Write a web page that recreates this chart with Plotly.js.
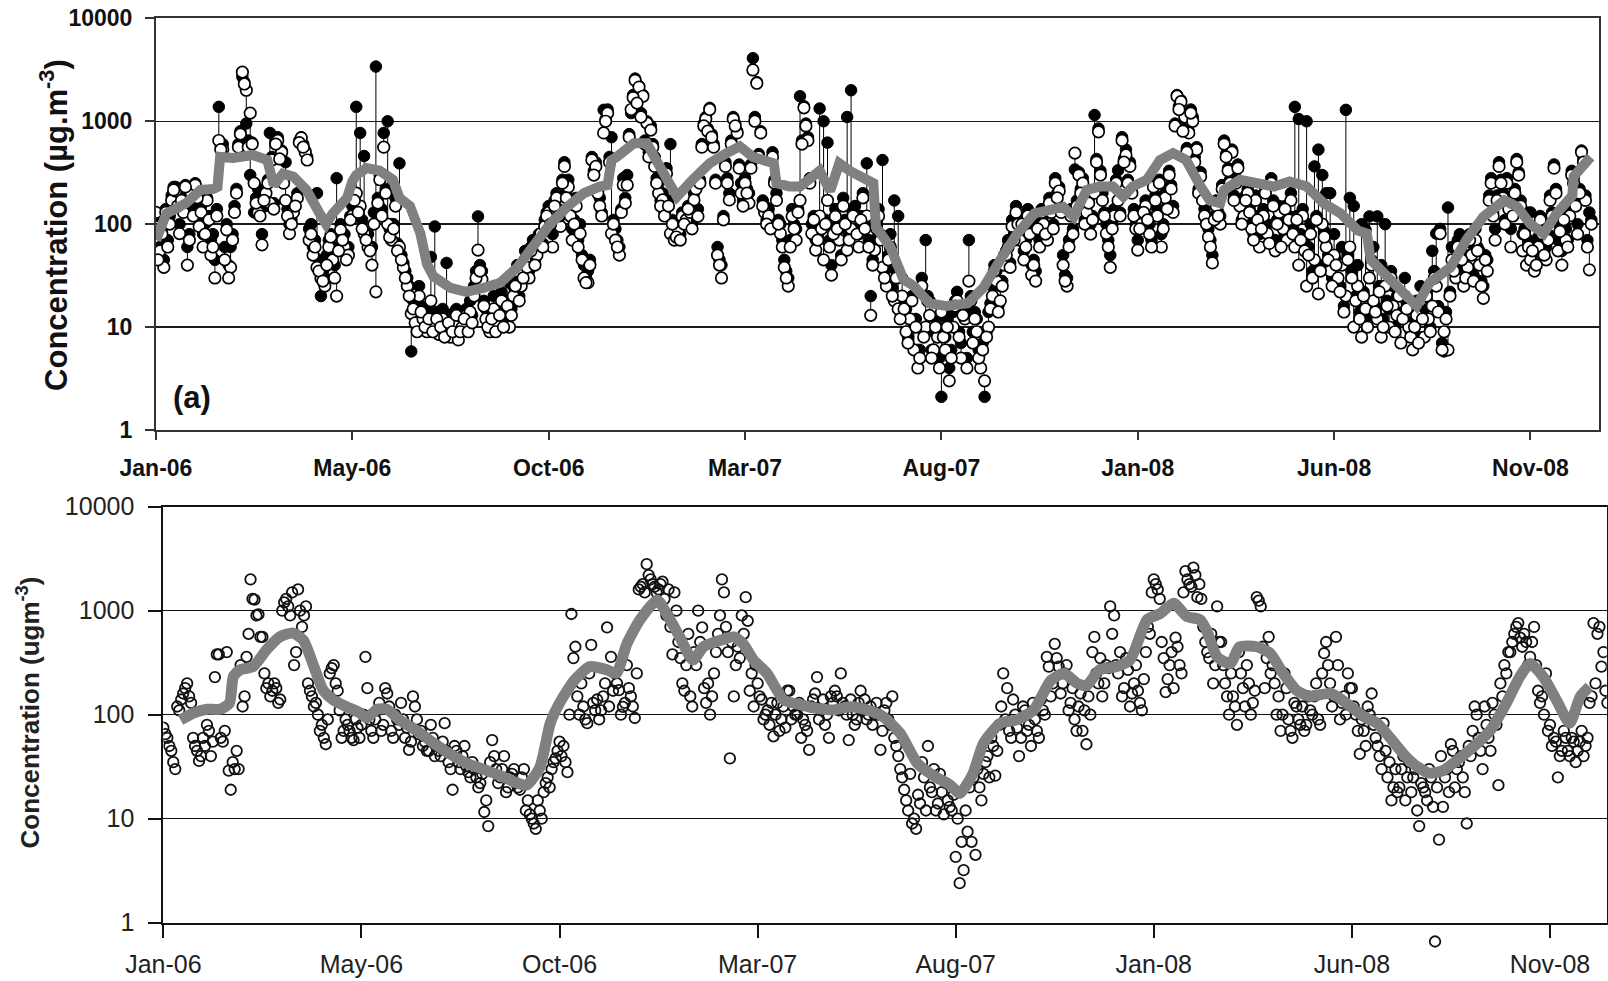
<!DOCTYPE html>
<html>
<head>
<meta charset="utf-8">
<script src="https://cdn.plot.ly/plotly-3.0.1.min.js"></script>
<style>
  html, body { margin: 0; padding: 0; background: #ffffff; }
  #chart { width: 1608px; height: 981px; }
</style>
</head>
<body>
<div id="chart"></div>
<script>
// Concentration record, Jan 2006 - Dec 2008. Readings are stored in two
// interleaved sets: one every 3 days from day 0, one every 3 days from day 1.5.
const seriesStartUTC = Date.UTC(2006, 0, 1);
const sampleStepDays = 3;
const midOffsetDays = 1.5;

// Date axis: ticks every 150 days from the first day of record
const xTickDays = [0, 150, 300, 450, 600, 750, 900, 1050];
const xTickLabels = ['Jan-06', 'May-06', 'Oct-06', 'Mar-07', 'Aug-07', 'Jan-08', 'Jun-08', 'Nov-08'];
const yTickValues = [1, 10, 100, 1000, 10000];
const yTickLabels = ['1', '10', '100', '1000', '10000'];

// Panel (a): filled-circle series (µg.m-3), days 0, 3, 6, ...
const topFilled = [
  120, 60, 45, 70, 190, 230, 100, 150, 60, 220,
  250, 110, 80, 180, 70, 45, 1380, 600, 100, 60,
  150, 600, 2700, 950, 300, 130, 220, 80, 150, 770,
  160, 700, 520, 400, 100, 150, 200, 700, 520, 90,
  60, 200, 20, 30, 70, 60, 280, 100, 80, 60,
  150, 1380, 770, 460, 80, 60, 3400, 300, 770, 1000,
  100, 180, 390, 42, 30, 5.8, 15, 25, 15, 12,
  48, 95, 12, 15, 42, 10, 14, 9, 12, 15,
  18, 25, 119, 35, 15, 11, 20, 14, 22, 18,
  27, 25, 40, 30, 55, 35, 70, 60, 60, 110,
  150, 80, 200, 120, 400, 270, 90, 180, 100, 40,
  35, 450, 400, 180, 1290, 1300, 700, 90, 60, 280,
  300, 1200, 2600, 2200, 1800, 1000, 900, 450, 250, 200,
  350, 600, 90, 100, 130, 130, 150, 200, 140, 600,
  1100, 1350, 600, 60, 40, 400, 200, 1100, 800, 250,
  280, 200, 4100, 2400, 800, 150, 140, 500, 200, 100,
  45, 30, 140, 90, 1750, 1400, 700, 100, 70, 1330,
  1000, 620, 40, 140, 90, 180, 1100, 2000, 150, 80,
  200, 390, 20, 70, 140, 420, 40, 80, 170, 120,
  30, 15, 18, 10, 6, 30, 70, 18, 9, 10,
  2.1, 8, 4, 14, 22, 7, 15, 70, 9, 12,
  6, 2.1, 14, 25, 35, 25, 50, 70, 110, 150,
  80, 55, 140, 40, 35, 70, 120, 85, 150, 280,
  230, 50, 30, 140, 340, 320, 280, 150, 100, 1150,
  850, 200, 100, 50, 140, 334, 700, 530, 400, 140,
  70, 120, 170, 100, 250, 140, 80, 200, 330, 150,
  1800, 1600, 1100, 800, 1100, 560, 320, 140, 90, 50,
  170, 120, 650, 350, 530, 280, 170, 140, 220, 110,
  190, 80, 140, 100, 280, 70, 150, 110, 90, 200,
  1380, 1050, 140, 1000, 100, 364, 530, 300, 200, 200,
  80, 40, 60, 1290, 180, 150, 40, 100, 88, 119,
  60, 119, 40, 100, 15, 25, 20, 12, 30, 15,
  9, 18, 25, 12, 16, 55, 81, 90, 5.8, 145,
  60, 40, 80, 35, 50, 65, 90, 55, 25, 45,
  280, 90, 400, 200, 280, 90, 220, 320, 80, 130,
  130, 50, 75, 100, 60, 190, 380, 70, 55, 90,
  140, 280, 100, 520, 190, 130
];
// Panel (a): filled-circle series, days 1.5, 4.5, 7.5, ...
const topFilledMid = [
  55, 90, 140, 120, 230, 170, 180, 240, 80, 140,
  200, 150, 100, 120, 80, 140, 560, 60, 40, 80,
  220, 800, 2400, 650, 620, 180, 140, 190, 270, 450,
  650, 450, 270, 140, 110, 170, 650, 600, 450, 100,
  70, 45, 35, 50, 80, 40, 60, 75, 60, 120,
  190, 150, 110, 80, 60, 130, 180, 140, 220, 90,
  100, 65, 50, 35, 25, 18, 12, 16, 12, 14,
  11, 14, 12, 10, 13, 11, 15, 11, 14, 11,
  13, 35, 40, 18, 12, 14, 11, 15, 12, 18,
  15, 28, 20, 35, 42, 60, 45, 80, 65, 130,
  110, 170, 140, 270, 200, 130, 110, 70, 50, 30,
  45, 330, 220, 130, 1050, 450, 110, 70, 140, 180,
  750, 1800, 1600, 1200, 650, 500, 600, 280, 170, 130,
  170, 110, 85, 80, 110, 150, 100, 240, 270, 950,
  850, 750, 270, 45, 120, 280, 650, 950, 380, 170,
  220, 380, 1100, 480, 170, 110, 100, 270, 110, 70,
  35, 70, 100, 140, 650, 950, 280, 120, 80, 100,
  110, 70, 90, 100, 50, 110, 80, 130, 90, 120,
  100, 70, 45, 100, 80, 35, 50, 24, 35, 14,
  17, 8, 20, 12, 6, 9, 20, 6, 12, 5,
  9, 12, 6, 18, 9, 15, 5, 20, 14, 6,
  7, 9, 17, 40, 16, 28, 55, 42, 80, 110,
  110, 70, 90, 45, 100, 140, 90, 180, 100, 200,
  140, 32, 70, 90, 170, 220, 110, 180, 120, 430,
  330, 130, 70, 100, 270, 130, 430, 270, 220, 100,
  100, 140, 120, 70, 190, 270, 100, 150, 240, 950,
  1400, 850, 550, 1300, 450, 220, 190, 110, 70, 120,
  130, 240, 480, 270, 190, 380, 110, 190, 140, 80,
  120, 100, 220, 75, 170, 110, 70, 150, 120, 90,
  120, 80, 65, 60, 35, 120, 40, 85, 50, 30,
  45, 25, 16, 50, 35, 20, 14, 22, 12, 45,
  16, 25, 12, 18, 35, 10, 22, 14, 17, 9,
  12, 8, 14, 22, 10, 35, 16, 7, 14, 22,
  40, 70, 50, 35, 80, 32, 60, 28, 50, 190,
  130, 190, 270, 110, 150, 130, 430, 170, 90, 70,
  60, 45, 120, 55, 80, 130, 220, 95, 120, 70,
  330, 170, 220, 430, 70, 110
];

// Panel (a): open-circle series (µg.m-3), days 0, 3, 6, ...
const topOpen = [
  130, 55, 38, 60, 170, 210, 81, 130, 40, 200,
  240, 95, 60, 170, 50, 30, 650, 530, 88, 38,
  130, 560, 3000, 2000, 1200, 250, 130, 63, 200, 160,
  140, 650, 500, 170, 81, 130, 180, 690, 500, 70,
  50, 38, 30, 25, 60, 45, 20, 88, 60, 50,
  120, 200, 150, 81, 60, 40, 22, 270, 560, 100,
  70, 150, 60, 38, 25, 13.5, 11, 20, 12, 9,
  18, 10, 8.5, 12, 9, 8, 11, 7.5, 10, 13,
  14, 20, 56, 29, 12, 9, 15, 11, 18, 14,
  10, 20, 35, 25, 45, 30, 60, 50, 81, 95,
  130, 60, 180, 95, 364, 230, 70, 150, 81, 30,
  27, 420, 364, 150, 770, 1200, 81, 70, 50, 240,
  240, 1300, 2500, 2150, 1750, 960, 820, 364, 200, 172,
  310, 81, 70, 88, 119, 110, 130, 172, 119, 560,
  1050, 1300, 560, 50, 30, 364, 172, 1050, 770, 200,
  250, 160, 3150, 2340, 770, 130, 120, 450, 170, 81,
  38, 25, 119, 70, 170, 1350, 650, 81, 56, 120,
  45, 170, 32, 119, 70, 150, 56, 90, 120, 60,
  180, 120, 13, 56, 120, 38, 25, 60, 18, 15,
  20, 9, 12, 6, 4, 25, 10, 13, 6, 8,
  14, 6, 3, 10, 18, 5, 12, 28, 7, 9,
  4, 3, 10, 20, 28, 18, 40, 60, 95, 130,
  70, 45, 120, 32, 28, 60, 100, 70, 130, 250,
  210, 40, 25, 120, 490, 300, 250, 130, 80, 200,
  790, 170, 81, 38, 120, 170, 650, 470, 364, 120,
  56, 100, 150, 80, 230, 120, 60, 180, 300, 130,
  1750, 1550, 1100, 770, 1000, 530, 290, 120, 75, 42,
  150, 100, 600, 330, 500, 250, 150, 119, 200, 90,
  170, 60, 120, 81, 250, 55, 130, 90, 70, 170,
  60, 40, 120, 25, 80, 45, 21, 100, 60, 35,
  50, 30, 40, 20, 60, 10, 25, 8, 15, 30,
  18, 12, 8, 25, 10, 16, 13, 7, 20, 10,
  6, 13, 18, 8, 12, 16, 25, 81, 9, 6,
  45, 30, 60, 25, 38, 50, 70, 40, 19, 35,
  250, 70, 364, 180, 250, 60, 200, 300, 55, 40,
  45, 35, 60, 80, 45, 170, 350, 55, 40, 70,
  120, 250, 80, 500, 170, 36
];
// Panel (a): open-circle series, days 1.5, 4.5, 7.5, ...
const topOpenMid = [
  45, 80, 130, 100, 215, 150, 170, 230, 70, 120,
  180, 130, 80, 110, 60, 120, 530, 45, 30, 70,
  200, 750, 2300, 560, 600, 160, 120, 170, 250, 420,
  600, 430, 250, 120, 100, 150, 620, 560, 420, 80,
  60, 35, 28, 40, 75, 30, 55, 70, 45, 110,
  170, 130, 90, 70, 55, 100, 160, 120, 200, 75,
  90, 55, 45, 30, 20, 15, 9, 14, 10, 12,
  9, 12, 10, 8, 11, 9, 13, 9, 12, 9,
  11, 30, 35, 16, 10, 12, 9, 13, 10, 16,
  13, 25, 18, 30, 38, 55, 40, 70, 60, 120,
  100, 150, 120, 250, 180, 120, 100, 60, 45, 27,
  40, 300, 200, 120, 1000, 400, 100, 60, 130, 160,
  700, 1700, 1500, 1100, 600, 450, 560, 250, 150, 120,
  150, 100, 75, 70, 100, 140, 90, 220, 250, 900,
  800, 700, 250, 40, 110, 250, 600, 900, 350, 150,
  200, 350, 1000, 450, 150, 100, 90, 250, 100, 60,
  30, 60, 90, 130, 600, 900, 250, 110, 70, 90,
  100, 60, 80, 90, 45, 100, 70, 120, 80, 110,
  90, 60, 40, 90, 70, 30, 45, 20, 30, 12,
  15, 7, 18, 10, 5, 8, 18, 5, 10, 4,
  8, 10, 5, 16, 8, 13, 4, 18, 12, 5,
  6, 8, 15, 35, 14, 25, 50, 38, 70, 100,
  100, 60, 80, 40, 90, 130, 80, 160, 90, 180,
  130, 28, 60, 80, 150, 200, 100, 160, 110, 400,
  300, 120, 60, 90, 250, 120, 400, 250, 200, 90,
  90, 130, 110, 60, 170, 250, 90, 140, 220, 900,
  1300, 800, 500, 1200, 400, 200, 170, 100, 60, 110,
  120, 220, 450, 250, 170, 350, 100, 170, 130, 70,
  110, 90, 200, 65, 150, 100, 60, 140, 110, 80,
  110, 70, 55, 50, 30, 110, 35, 75, 45, 25,
  40, 22, 14, 45, 30, 18, 12, 20, 10, 40,
  14, 22, 10, 16, 30, 9, 20, 12, 15, 8,
  10, 7, 12, 20, 9, 30, 14, 6, 12, 20,
  35, 60, 45, 30, 70, 28, 55, 25, 45, 170,
  120, 170, 250, 100, 140, 120, 400, 150, 80, 60,
  55, 40, 110, 50, 70, 120, 200, 85, 110, 60,
  300, 150, 200, 400, 60, 100
];

// Panel (a): running mean (day of record, value)
const topMeanDays = [
  0, 8, 23, 34, 44, 47, 49, 59, 74, 85, 90, 97, 105, 115, 125, 130, 135, 146, 150, 153,
  161, 171, 181, 186, 194, 199, 202, 207, 212, 225, 237, 250, 263, 276, 288, 301, 314, 327, 339, 345,
  348, 352, 365, 375, 385, 398, 410, 423, 436, 446, 456, 469, 472, 474, 484, 492, 500, 507, 515, 522,
  530, 538, 548, 550, 561, 571, 579, 591, 604, 620, 632, 645, 658, 671, 683, 693, 701, 711, 721, 731,
  739, 746, 757, 767, 777, 787, 798, 805, 813, 816, 828, 841, 854, 866, 879, 892, 905, 918, 925, 928,
  943, 956, 963, 973, 989, 1001, 1014, 1030, 1040, 1050, 1060, 1070, 1080, 1082, 1083, 1096
];
const topMeanValues = [
  70, 127, 160, 215, 220, 230, 450, 440, 470, 420, 240, 310, 290, 215, 127, 100, 127, 180, 260, 300,
  350, 330, 270, 180, 150, 95, 81, 41, 31, 24, 22, 24, 27, 38, 60, 100, 147, 200, 232, 240,
  420, 450, 610, 610, 360, 185, 270, 390, 490, 570, 450, 390, 390, 250, 232, 232, 290, 330, 210, 390,
  330, 290, 250, 94, 60, 29, 25, 17, 16, 17, 24, 45, 81, 127, 137, 147, 118, 215, 232, 232,
  185, 232, 270, 420, 490, 420, 232, 170, 160, 215, 270, 250, 232, 260, 232, 160, 127, 87, 81, 45,
  29, 20, 16, 27, 38, 70, 118, 170, 147, 100, 81, 127, 185, 190, 290, 450
];

// Lower panel: observations (ugm-3), days 0, 3, 6, ...
const bottomObserved = [
  75, 60, 45, 30, 110, 160, 200, 130, 50, 36,
  60, 80, 40, 230, 380, 55, 400, 19, 30, 30,
  120, 360, 2000, 1280, 920, 560, 180, 150, 200, 130,
  1000, 1300, 900, 300, 1600, 700, 1100, 170, 120, 100,
  80, 52, 250, 300, 170, 60, 90, 70, 57, 75,
  80, 360, 90, 60, 110, 70, 180, 120, 60, 90,
  130, 60, 46, 150, 90, 70, 55, 45, 60, 50,
  40, 83, 35, 19, 45, 30, 50, 28, 35, 25,
  22, 11.6, 8.5, 57, 30, 25, 40, 20, 27, 22,
  19, 30, 15, 10, 8, 12, 18, 25, 30, 38,
  55, 50, 28, 930, 450, 100, 120, 83, 470, 110,
  90, 150, 690, 360, 250, 172, 119, 300, 150, 93,
  1600, 1800, 2800, 2000, 1700, 1600, 1900, 900, 700, 1500,
  500, 200, 300, 150, 400, 1000, 690, 130, 100, 250,
  600, 2000, 700, 38, 150, 450, 900, 1350, 170, 120,
  200, 140, 100, 80, 62, 130, 90, 75, 170, 120,
  100, 60, 80, 46, 140, 230, 110, 80, 60, 130,
  150, 250, 120, 57, 100, 90, 170, 140, 100, 80,
  130, 46, 110, 90, 150, 50, 30, 19, 12, 9,
  8, 14, 25, 50, 18, 12, 27, 11, 15, 12,
  4.3, 2.4, 3.2, 7.5, 6, 4.5, 20, 27, 40, 60,
  26, 80, 250, 180, 60, 100, 40, 120, 70, 50,
  90, 60, 110, 360, 150, 480, 290, 200, 300, 130,
  90, 120, 70, 52, 100, 560, 200, 150, 300, 1100,
  900, 250, 150, 350, 120, 200, 170, 110, 400, 600,
  2000, 1600, 500, 165, 300, 180, 450, 250, 2400, 1800,
  2600, 1350, 1300, 500, 350, 200, 1100, 500, 200, 100,
  150, 80, 250, 120, 200, 130, 1350, 1100, 180, 560,
  300, 100, 70, 250, 90, 60, 120, 80, 70, 150,
  100, 200, 80, 390, 300, 120, 560, 90, 150, 250,
  180, 100, 42, 70, 120, 160, 60, 40, 83, 25,
  15, 30, 20, 40, 25, 18, 30, 8.5, 20, 15,
  25, 0.66, 6.3, 13, 30, 52, 20, 35, 25, 9,
  40, 120, 60, 30, 80, 45, 100, 21, 150, 250,
  400, 600, 760, 450, 500, 360, 700, 170, 150, 250,
  80, 60, 25, 45, 60, 40, 55, 45, 70, 50,
  130, 760, 600, 290, 170
];
// Lower panel: observations, days 1.5, 4.5, 7.5, ...
const bottomObservedMid = [
  65, 50, 35, 120, 140, 180, 150, 60, 45, 40,
  50, 70, 55, 380, 60, 70, 29, 35, 45, 300,
  150, 600, 1300, 900, 560, 250, 200, 170, 180, 140,
  1200, 1100, 1500, 400, 1000, 900, 200, 150, 130, 70,
  60, 90, 280, 200, 110, 70, 80, 60, 90, 60,
  100, 180, 70, 90, 130, 80, 160, 70, 100, 80,
  90, 75, 55, 120, 65, 50, 45, 80, 40, 45,
  55, 45, 30, 50, 35, 40, 32, 25, 30, 20,
  27, 15, 35, 40, 22, 30, 18, 25, 30, 20,
  25, 12, 11, 9, 15, 10, 22, 20, 35, 45,
  40, 35, 100, 350, 150, 200, 90, 250, 130, 140,
  110, 200, 120, 170, 200, 100, 130, 180, 120, 250,
  1700, 1500, 2200, 1800, 1500, 1800, 1300, 1600, 380, 1000,
  350, 170, 600, 120, 300, 500, 180, 200, 150, 400,
  900, 1500, 400, 500, 300, 350, 600, 800, 250, 300,
  150, 90, 110, 130, 100, 70, 120, 170, 90, 100,
  130, 90, 70, 120, 160, 90, 140, 100, 150, 170,
  110, 130, 100, 140, 80, 130, 110, 90, 120, 100,
  100, 70, 130, 80, 60, 40, 25, 15, 27, 10,
  17, 35, 12, 20, 30, 14, 18, 22, 13, 17,
  10, 6, 12, 20, 25, 30, 15, 35, 25, 50,
  45, 120, 90, 70, 140, 75, 60, 110, 80, 130,
  70, 140, 100, 290, 200, 350, 160, 250, 110, 180,
  70, 160, 110, 150, 400, 250, 350, 200, 280, 600,
  300, 400, 180, 270, 160, 300, 130, 220, 700, 1500,
  1800, 1300, 350, 220, 400, 550, 300, 1500, 2000, 1700,
  2200, 1800, 700, 400, 600, 300, 500, 300, 150, 250,
  120, 400, 180, 300, 100, 170, 1250, 450, 350, 250,
  200, 150, 100, 180, 70, 130, 90, 120, 80, 110,
  150, 90, 250, 500, 200, 150, 300, 130, 100, 180,
  120, 70, 90, 50, 100, 80, 50, 30, 45, 35,
  20, 18, 30, 15, 35, 25, 12, 22, 18, 30,
  13, 20, 40, 25, 18, 45, 30, 40, 18, 50,
  70, 100, 45, 120, 60, 130, 80, 200, 300, 400,
  500, 700, 550, 600, 300, 500, 300, 130, 100, 70,
  50, 55, 40, 70, 45, 60, 35, 55, 40, 60,
  150, 200, 700, 400, 130
];

// Lower panel: running mean (day of record, value)
const bottomMeanDays = [
  13, 23, 33, 43, 50, 53, 58, 68, 78, 88, 98, 106, 114, 121, 129, 139, 149, 154, 162, 169,
  179, 192, 205, 217, 230, 242, 255, 268, 275, 285, 293, 300, 311, 323, 336, 343, 351, 361, 374, 381,
  391, 401, 409, 422, 432, 439, 447, 457, 470, 482, 495, 507, 520, 533, 545, 558, 571, 583, 596, 603,
  613, 621, 634, 646, 659, 672, 682, 692, 699, 709, 722, 732, 745, 755, 765, 775, 785, 790, 798, 808,
  815, 828, 838, 848, 858, 868, 884, 896, 909, 919, 929, 939, 949, 959, 969, 979, 992, 1005, 1017, 1027,
  1035, 1045, 1055, 1065, 1073, 1080
];
const bottomMeanValues = [
  89, 104, 113, 113, 129, 233, 270, 290, 420, 560, 610, 520, 290, 172, 138, 119, 104, 93, 113, 113,
  89, 70, 53, 42, 34, 30, 26, 22, 21, 31, 83, 129, 213, 290, 270, 250, 480, 820, 1270, 940,
  560, 335, 450, 520, 560, 480, 335, 250, 138, 125, 115, 111, 119, 111, 96, 66, 34, 26, 21, 17.5,
  27, 53, 83, 89, 111, 213, 250, 200, 190, 270, 290, 335, 820, 940, 1180, 880, 820, 650, 360, 310,
  450, 450, 390, 250, 172, 150, 160, 129, 96, 83, 60, 42, 32, 27.4, 29, 36, 49, 71, 129, 230,
  310, 230, 138, 83, 150, 186
];

function dayToDate(d) {
  const ms = seriesStartUTC + d * 86400000;
  return new Date(ms).toISOString().slice(0, 19).replace('T', ' ');
}
const sampleDates = (n, offset) =>
  Array.from({ length: n }, (_, i) => dayToDate(offset + i * sampleStepDays));

const topX = sampleDates(topOpen.length, 0).concat(sampleDates(topOpenMid.length, midOffsetDays));
const topOpenAll = topOpen.concat(topOpenMid);
const topFilledAll = topFilled.concat(topFilledMid);
const bottomX = sampleDates(bottomObserved.length, 0)
  .concat(sampleDates(bottomObservedMid.length, midOffsetDays));
const bottomAll = bottomObserved.concat(bottomObservedMid);

// high-low connectors between the two panel (a) series
const linkX = [], linkY = [];
topX.forEach((d, i) => {
  linkX.push(d, d, null);
  linkY.push(topFilledAll[i], topOpenAll[i], null);
});

// Lower panel geometry: the framed axis spans 1..10000; its marks sit on a
// hidden twin log axis with the same scale that reaches a little below 1,
// so an observation under the axis floor is still drawn.
const lowerDomain = [0.0594, 0.4835];
const pxPerDecade = (lowerDomain[1] - lowerDomain[0]) * 981 / 4;
const extraFrac = 0.035;
const extraDecades = extraFrac * 981 / pxPerDecade;

const traces = [
  { x: linkX, y: linkY, mode: 'lines', line: { color: '#000000', width: 1 },
    xaxis: 'x', yaxis: 'y', hoverinfo: 'skip', showlegend: false },
  { x: topX, y: topFilledAll, mode: 'markers',
    marker: { size: 11.5, color: '#000000', line: { color: '#000000', width: 1 } },
    xaxis: 'x', yaxis: 'y', showlegend: false },
  { x: topX, y: topOpenAll, mode: 'markers',
    marker: { size: 11.5, color: '#ffffff', line: { color: '#000000', width: 1.7 } },
    xaxis: 'x', yaxis: 'y', showlegend: false },
  { x: topMeanDays.map(dayToDate), y: topMeanValues, mode: 'lines',
    line: { color: '#808080', width: 10 },
    xaxis: 'x', yaxis: 'y', showlegend: false },
  // framed lower axes (no marks of their own)
  { x: [], y: [], mode: 'markers', xaxis: 'x2', yaxis: 'y2', showlegend: false },
  { x: bottomX, y: bottomAll, mode: 'markers',
    marker: { symbol: 'circle-open', size: 10.5, color: '#111111', line: { width: 1.8 } },
    xaxis: 'x2', yaxis: 'y3', showlegend: false },
  { x: bottomMeanDays.map(dayToDate), y: bottomMeanValues, mode: 'lines',
    line: { color: '#808080', width: 11, shape: 'spline', smoothing: 0.6 },
    xaxis: 'x2', yaxis: 'y3', showlegend: false }
];

const boldTick = { family: 'Liberation Sans, Arial, sans-serif', size: 23, color: '#111111', weight: 'bold' };
const plainTick = { family: 'Liberation Sans, Arial, sans-serif', size: 25, color: '#222222' };
const xTickDates = xTickDays.map(dayToDate);

const layout = {
  width: 1608, height: 981,
  margin: { l: 0, r: 0, t: 0, b: 0 },
  paper_bgcolor: '#ffffff', plot_bgcolor: 'rgba(0,0,0,0)',
  hovermode: false, showlegend: false,
  xaxis: {
    type: 'date', domain: [0.0970, 0.9946], anchor: 'y',
    range: [dayToDate(0), dayToDate(1102.6)],
    tickmode: 'array', tickvals: xTickDates, ticktext: xTickLabels,
    ticks: 'outside', ticklen: 8, tickwidth: 2, tickcolor: '#333333',
    showline: true, linecolor: '#333333', linewidth: 2, mirror: true,
    showgrid: false, zeroline: false, tickfont: boldTick, ticklabelstandoff: 8
  },
  yaxis: {
    type: 'log', domain: [0.5617, 0.9813], anchor: 'x',
    range: [0, 4], tickmode: 'array', tickvals: yTickValues, ticktext: yTickLabels,
    ticks: 'outside', ticklen: 9, tickwidth: 2, tickcolor: '#333333',
    showline: true, linecolor: '#333333', linewidth: 2, mirror: true,
    showgrid: true, gridcolor: '#1a1a1a', gridwidth: 1.5, zeroline: false,
    tickfont: boldTick, ticklabelstandoff: 8
  },
  xaxis2: {
    type: 'date', domain: [0.1016, 0.9992], anchor: 'y2',
    range: [dayToDate(0), dayToDate(1093)],
    tickmode: 'array', tickvals: xTickDates, ticktext: xTickLabels,
    ticks: 'outside', ticklen: 13, tickwidth: 2, tickcolor: '#111111',
    showline: true, linecolor: '#111111', linewidth: 2, mirror: true,
    showgrid: false, zeroline: false, tickfont: plainTick, ticklabelstandoff: 5
  },
  yaxis2: {
    type: 'log', domain: lowerDomain, anchor: 'x2',
    range: [0, 4], tickmode: 'array', tickvals: yTickValues, ticktext: yTickLabels,
    ticks: 'outside', ticklen: 13, tickwidth: 2, tickcolor: '#111111',
    showline: true, linecolor: '#111111', linewidth: 2, mirror: true,
    showgrid: true, gridcolor: '#111111', gridwidth: 1.5, zeroline: false,
    tickfont: plainTick, ticklabelstandoff: 9
  },
  yaxis3: {
    type: 'log', domain: [lowerDomain[0] - extraFrac, lowerDomain[1]], anchor: 'free', position: 0.1016,
    range: [-extraDecades, 4], visible: false, showgrid: false, zeroline: false
  },
  annotations: [
    { text: 'Concentration (µg.m<sup>-3</sup>)', xref: 'paper', yref: 'paper',
      x: 0.0335, y: 0.7706, xanchor: 'center', yanchor: 'middle', textangle: -90, showarrow: false,
      font: { family: 'Liberation Sans, Arial, sans-serif', size: 31, color: '#111111', weight: 'bold' } },
    { text: '(a)', xref: 'paper', yref: 'paper',
      x: 0.1194, y: 0.5943, xanchor: 'center', yanchor: 'middle', showarrow: false,
      font: { family: 'Liberation Sans, Arial, sans-serif', size: 31, color: '#111111', weight: 'bold' } },
    { text: 'Concentration (ugm<sup>-3</sup>)', xref: 'paper', yref: 'paper',
      x: 0.018, y: 0.2737, xanchor: 'center', yanchor: 'middle', textangle: -90, showarrow: false,
      font: { family: 'Liberation Sans, Arial, sans-serif', size: 26, color: '#222222', weight: 'bold' } }
  ]
};

Plotly.newPlot('chart', traces, layout, { displayModeBar: false, staticPlot: true });
</script>
</body>
</html>
